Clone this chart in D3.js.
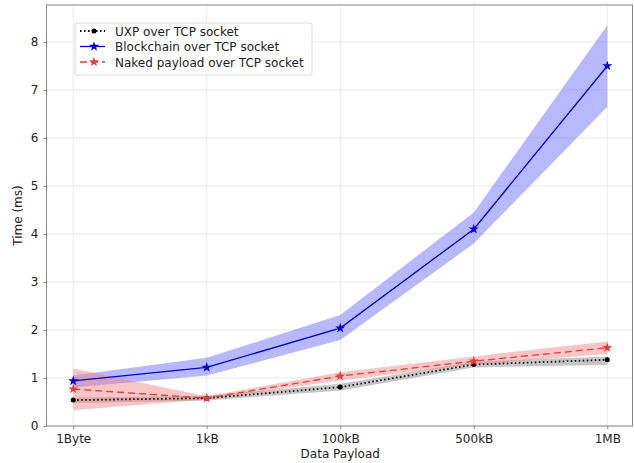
<!DOCTYPE html>
<html>
<head>
<meta charset="utf-8">
<script src="https://cdn.jsdelivr.net/npm/d3@7"></script>
<style>
  body { margin: 0; background: #fff; }
  text { font-family: "DejaVu Sans", sans-serif; }
</style>
</head>
<body>
<div id="viz"></div>
<script>
const WIDTH = 634, HEIGHT = 463;

const payloads = ["1Byte", "1kB", "100kB", "500kB", "1MB"];
const yTicks = [0, 1, 2, 3, 4, 5, 6, 7, 8];

// mean and band (low / high) per payload
const uxpMean = [0.54, 0.58, 0.81, 1.28, 1.38];
const uxpLow  = [0.48, 0.53, 0.74, 1.22, 1.27];
const uxpHigh = [0.59, 0.63, 0.88, 1.34, 1.45];

const chainMean = [0.94, 1.22, 2.04, 4.10, 7.50];
const chainLow  = [0.80, 1.05, 1.79, 3.80, 6.65];
const chainHigh = [1.05, 1.42, 2.31, 4.45, 8.35];

const nakedMean = [0.77, 0.58, 1.04, 1.35, 1.63];
const nakedLow  = [0.33, 0.55, 0.95, 1.28, 1.50];
const nakedHigh = [1.20, 0.62, 1.12, 1.45, 1.76];

const series = [
  { name: "UXP over TCP socket", mean: uxpMean, low: uxpLow, high: uxpHigh,
    color: "#000", band: "#808080", bandOpacity: 0.45, dash: "1.5,2.5", marker: "circle" },
  { name: "Blockchain over TCP socket", mean: chainMean, low: chainLow, high: chainHigh,
    color: "#0000cc", band: "#3333ff", bandOpacity: 0.35, dash: null, marker: "star" },
  { name: "Naked payload over TCP socket", mean: nakedMean, low: nakedLow, high: nakedHigh,
    color: "#e0403a", band: "#f08080", bandOpacity: 0.45, dash: "7,4", marker: "star" }
];

const svg = d3.select("#viz").append("svg")
  .attr("width", WIDTH).attr("height", HEIGHT);

const x = d3.scaleLinear().domain([-0.2, 4.2]).range([46.5, 634]);
const y = d3.scaleLinear().domain([0, 8.77]).range([426, 5]);

const g = svg.append("g");

// grid
g.selectAll("line.gy").data(yTicks).join("line")
  .attr("x1", x.range()[0]).attr("x2", x.range()[1])
  .attr("y1", d => y(d)).attr("y2", d => y(d))
  .attr("stroke", "#ebebeb").attr("stroke-width", 1);
g.selectAll("line.gx").data(payloads).join("line")
  .attr("x1", (d, i) => x(i)).attr("x2", (d, i) => x(i))
  .attr("y1", y.range()[0]).attr("y2", y.range()[1])
  .attr("stroke", "#ebebeb").attr("stroke-width", 1);

// bands
series.forEach(s => {
  const area = d3.area()
    .x((d, i) => x(i))
    .y0((d, i) => y(s.low[i]))
    .y1((d, i) => y(s.high[i]));
  g.append("path").datum(s.mean)
    .attr("d", area)
    .attr("fill", s.band)
    .attr("fill-opacity", s.bandOpacity);
});

const starPath = d3.symbol().type(d3.symbolStar).size(32)();
const dotPath = d3.symbol().type(d3.symbolCircle).size(20)();

// lines + markers
series.forEach(s => {
  const line = d3.line().x((d, i) => x(i)).y(d => y(d));
  g.append("path").datum(s.mean)
    .attr("d", line)
    .attr("fill", "none")
    .attr("stroke", s.color)
    .attr("stroke-width", s.marker === "circle" ? 1.8 : 1.3)
    .attr("stroke-dasharray", s.dash);
  g.selectAll(null).data(s.mean).join("path")
    .attr("transform", (d, i) => `translate(${x(i)},${y(d)})`)
    .attr("d", s.marker === "star" ? starPath : dotPath)
    .attr("fill", s.color);
});

// frame
svg.append("rect")
  .attr("x", x.range()[0]).attr("y", y.range()[1])
  .attr("width", x.range()[1] - x.range()[0] - 1.5)
  .attr("height", y.range()[0] - y.range()[1])
  .attr("fill", "none").attr("stroke", "#888").attr("stroke-width", 1);

// axes
const xAxis = svg.append("g")
  .attr("transform", `translate(0,${y.range()[0]})`)
  .call(d3.axisBottom(x).tickValues(d3.range(payloads.length))
    .tickFormat(i => payloads[i]).tickSize(3).tickPadding(5));
const yAxis = svg.append("g")
  .attr("transform", `translate(${x.range()[0]},0)`)
  .call(d3.axisLeft(y).tickValues(yTicks).tickSize(3).tickPadding(5));
[xAxis, yAxis].forEach(a => {
  a.select(".domain").remove();
  a.selectAll(".tick line").attr("stroke", "#888");
  a.selectAll(".tick text").attr("fill", "#222").style("font-size", "12px")
    .style("font-family", "DejaVu Sans, sans-serif");
});

svg.append("text")
  .attr("x", (x.range()[0] + x.range()[1]) / 2).attr("y", 458)
  .attr("text-anchor", "middle").style("font-size", "12px").attr("fill", "#222")
  .text("Data Payload");
svg.append("text")
  .attr("transform", `translate(22,${(y.range()[0] + y.range()[1]) / 2}) rotate(-90)`)
  .attr("text-anchor", "middle").style("font-size", "12px").attr("fill", "#222")
  .text("Time (ms)");

// legend
const legend = svg.append("g").attr("transform", "translate(75,23)");
legend.append("rect")
  .attr("width", 237).attr("height", 52).attr("rx", 2)
  .attr("fill", "#fff").attr("fill-opacity", 0.85)
  .attr("stroke", "#ddd");
series.forEach((s, i) => {
  const ly = 8 + i * 15.5;
  legend.append("line")
    .attr("x1", 5).attr("x2", 30).attr("y1", ly).attr("y2", ly)
    .attr("stroke", s.color).attr("stroke-width", s.marker === "circle" ? 1.8 : 1.3)
    .attr("stroke-dasharray", s.dash);
  legend.append("path")
    .attr("transform", `translate(19,${ly})`)
    .attr("d", s.marker === "star" ? starPath : dotPath)
    .attr("fill", s.color);
  legend.append("text")
    .attr("x", 40).attr("y", ly + 4.5)
    .style("font-size", "12px").attr("fill", "#222")
    .text(s.name);
});
</script>
</body>
</html>
